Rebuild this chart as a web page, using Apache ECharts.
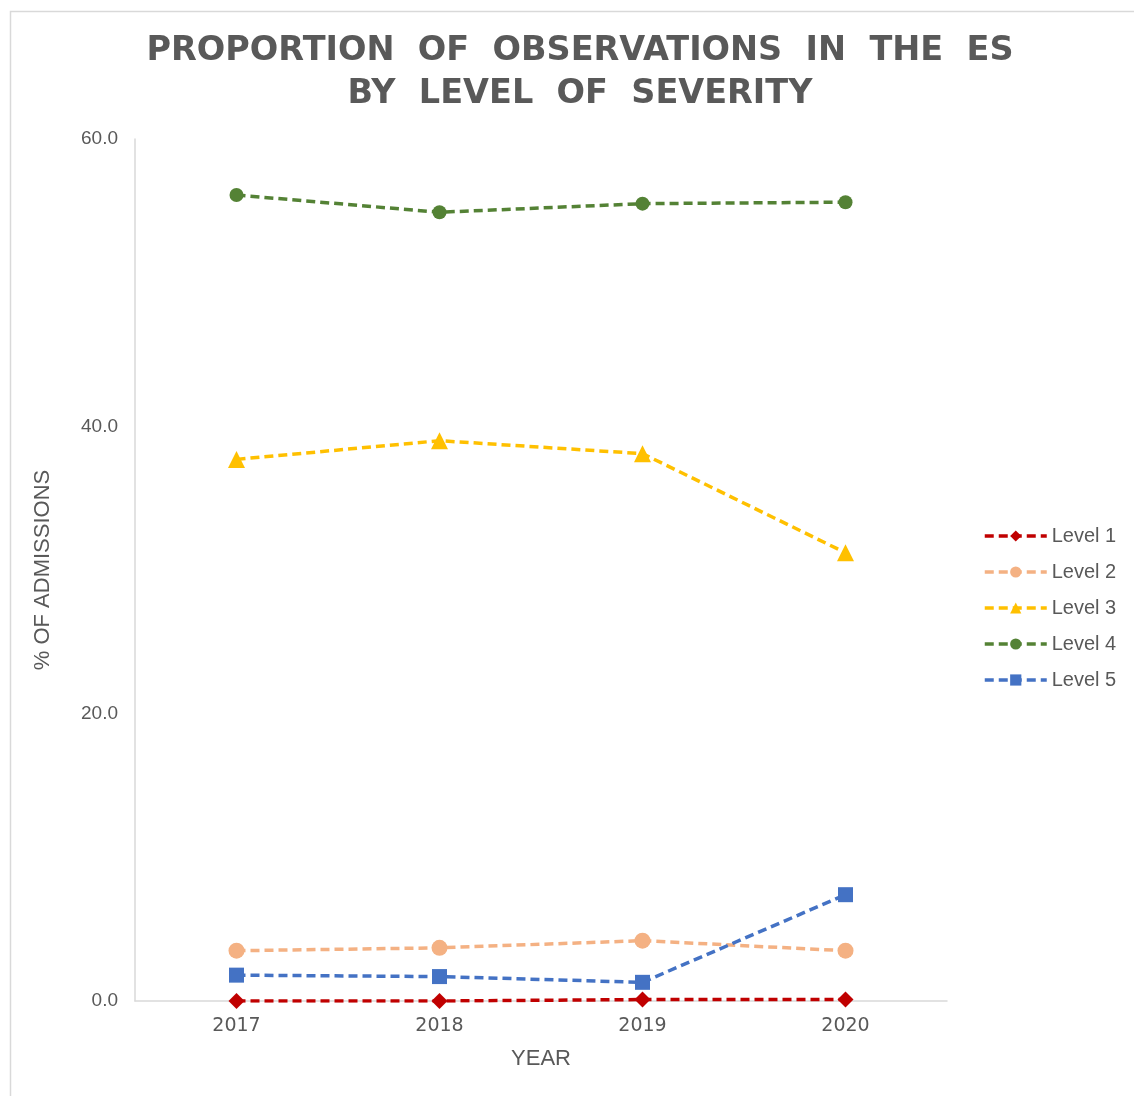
<!DOCTYPE html>
<html><head><meta charset="utf-8">
<script src="https://cdn.jsdelivr.net/npm/echarts@6/dist/echarts.min.js"></script>
<style>html,body{margin:0;padding:0;background:#fff}#c{width:1134px;height:1096px}</style>
</head><body><div id="c"></div>
<script>
const years = ['2017', '2018', '2019', '2020'];
const level1 = [0.0, 0.0, 0.1, 0.1];
const level2 = [3.5, 3.7, 4.2, 3.5];
const level3 = [37.7, 39.0, 38.1, 31.2];
const level4 = [56.1, 54.9, 55.5, 55.6];
const level5 = [1.8, 1.7, 1.3, 7.4];
const yTicks = [0, 20, 40, 60];

const names = ['Level 1', 'Level 2', 'Level 3', 'Level 4', 'Level 5'];
const values = [level1, level2, level3, level4, level5];
const colors = ['#C00000', '#F4B183', '#FFC000', '#548235', '#4472C4'];
const symbols = ['diamond', 'circle', 'triangle', 'circle', 'rect'];
const sizes = [16, 16, 17, 14, 15];

const chart = echarts.init(document.getElementById('c'));
chart.setOption({
  animation: false,
  backgroundColor: '#fff',
  graphic: [{
    type: 'rect', shape: {x: 10.5, y: 11.5, width: 1140, height: 1100},
    style: {fill: 'none', stroke: '#d9d9d9', lineWidth: 1.5}, z: -1
  }],
  title: {
    text: 'PROPORTION  OF  OBSERVATIONS  IN  THE  ES\nBY  LEVEL  OF  SEVERITY',
    left: 575, top: 25, textAlign: 'center',
    textStyle: {fontFamily: 'DejaVu Sans', fontWeight: 'bold', fontSize: 33.5, color: '#595959', lineHeight: 43}
  },
  legend: {
    orient: 'vertical', left: 978, top: 521,
    itemWidth: 62, itemHeight: 14, itemGap: 16,
    data: names,
    lineStyle: {width: 3.5},
    textStyle: {fontFamily: 'Liberation Sans', fontSize: 20, color: '#595959'}
  },
  grid: {left: 135, right: 187, top: 139, bottom: 95, containLabel: false},
  xAxis: {
    type: 'category', data: years, boundaryGap: true,
    name: 'YEAR', nameLocation: 'middle', nameGap: 47,
    nameTextStyle: {fontFamily: 'Liberation Sans', fontSize: 22, color: '#595959'},
    axisLine: {lineStyle: {color: '#d9d9d9', width: 1.5}},
    axisTick: {show: false},
    axisLabel: {fontFamily: 'DejaVu Sans', fontSize: 19, color: '#595959', margin: 16}
  },
  yAxis: {
    type: 'value', min: 0, max: 60, interval: 20,
    name: '% OF ADMISSIONS', nameLocation: 'middle', nameGap: 81, nameRotate: 90,
    nameTextStyle: {fontFamily: 'Liberation Sans', fontSize: 22, color: '#595959'},
    axisLine: {show: true, lineStyle: {color: '#d9d9d9', width: 1.5}},
    axisTick: {show: false},
    splitLine: {show: false},
    axisLabel: {fontFamily: 'Liberation Sans', fontSize: 19, color: '#595959', margin: 17,
      formatter: v => yTicks.includes(v) ? v.toFixed(1) : ''}
  },
  series: names.map((n, i) => ({
    name: n, type: 'line', data: values[i],
    symbol: symbols[i], symbolSize: sizes[i], showAllSymbol: true,
    itemStyle: {color: colors[i]},
    lineStyle: {color: colors[i], width: 3.5, type: [9, 5]},
    z: i === 0 ? 10 : 2
  }))
});
</script></body></html>
